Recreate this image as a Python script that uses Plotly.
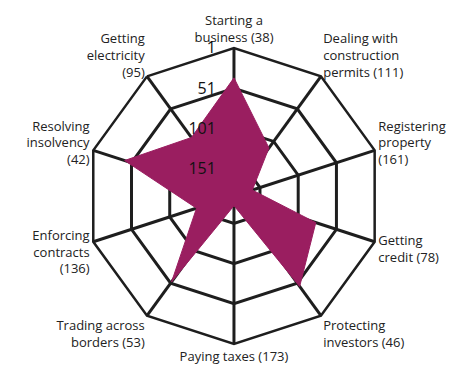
"""
Doing Business rankings radar chart
"""
import plotly.graph_objects as go

# Ease of doing business topics (clockwise from top) and their ranks
topics = [
    'Starting a<br>business (38)',
    'Dealing with<br>construction<br>permits (111)',
    'Registering<br>property<br>(161)',
    'Getting<br>credit (78)',
    'Protecting<br>investors (46)',
    'Paying taxes (173)',
    'Trading across<br>borders (53)',
    'Enforcing<br>contracts<br>(136)',
    'Resolving<br>insolvency<br>(42)',
    'Getting<br>electricity<br>(95)',
]
ranks = [38, 111, 161, 78, 46, 173, 53, 136, 42, 95]
tick_vals = [1, 51, 101, 151]
n_economies = 185

fig = go.Figure()

fig.add_trace(go.Scatterpolar(
    r=ranks + [ranks[0]],
    theta=topics + [topics[0]],
    mode='lines',
    fill='toself',
    fillcolor='#9a1e60',
    line=dict(color='#9a1e60', width=1),
    hoverinfo='r+theta',
))

# the page body has an 8px margin, so the polar domain is nudged up/left
fig.update_layout(
    width=464,
    height=368,
    margin=dict(l=0, r=0, t=0, b=0),
    paper_bgcolor='white',
    showlegend=False,
    font=dict(family='Open Sans', size=13, color='#222'),
    polar=dict(
        domain=dict(x=[0.168, 0.806], y=[0.087, 0.891]),
        bgcolor='white',
        gridshape='linear',
        angularaxis=dict(
            rotation=90,
            direction='clockwise',
            showline=True,
            linecolor='#1e1e1e',
            linewidth=2.5,
            gridcolor='#1e1e1e',
            gridwidth=2.5,
            ticks='',
            tickfont=dict(size=13, color='#222'),
        ),
        radialaxis=dict(
            range=[n_economies, 1],
            tickvals=tick_vals,
            angle=90,
            side='counterclockwise',
            tickangle=90,
            showline=False,
            ticks='outside',
            ticklen=12,
            tickcolor='rgba(0,0,0,0)',
            gridcolor='#1e1e1e',
            gridwidth=2.5,
            tickfont=dict(size=16, color='#111', family='Open Sans'),
            layer='above traces',
        ),
    ),
)

fig.write_html("out.html")
